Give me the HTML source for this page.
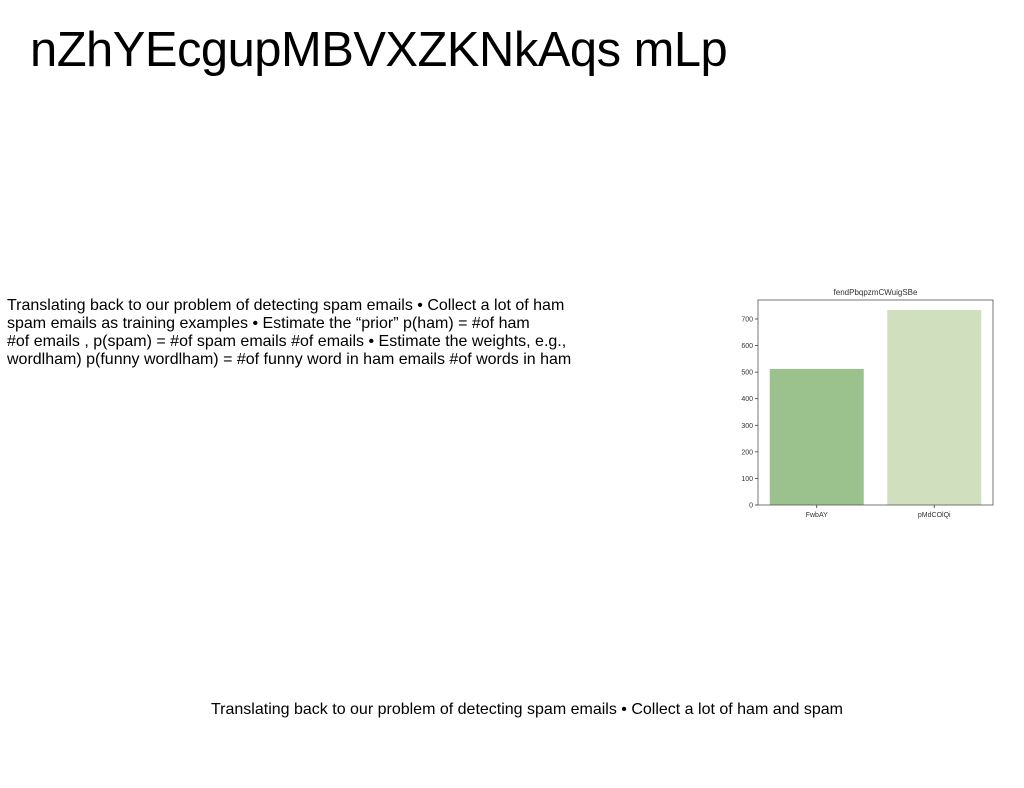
<!DOCTYPE html>
<html><head><meta charset="utf-8"><style>
body{margin:0;width:1024px;height:788px;background:#fff;position:relative;overflow:hidden;font-family:"Liberation Sans",sans-serif;color:#000}
.t{position:absolute;left:30px;top:22px;font-size:48.9px;letter-spacing:-0.5px;white-space:nowrap}
.p{position:absolute;left:7px;top:297px;font-size:16px;line-height:18px;white-space:nowrap}
.f{position:absolute;left:0;width:1054px;text-align:center;top:701px;font-size:16px;white-space:nowrap}
svg{position:absolute;left:0;top:0}
</style></head><body>
<div class="t">nZhYEcgupMBVXZKNkAqs mLp</div>
<div class="p">Translating back to our problem of detecting spam emails • Collect a lot of ham<br>spam emails as training examples • Estimate the “prior” p(ham) = #of ham<br>#of emails , p(spam) = #of spam emails #of emails • Estimate the weights, e.g.,<br>wordlham) p(funny wordlham) = #of funny word in ham emails #of words in ham</div>
<div class="f">Translating back to our problem of detecting spam emails • Collect a lot of ham and spam</div>
<svg width="1024" height="788" id="ch"></svg>
<script>
const categories=["FwbAY","pMdCOlQi"];
const values=[512,734];
const colors=["#9bc28d","#d0dfbe"];
const ticks=[0,100,200,300,400,500,600,700];
const NS="http://www.w3.org/2000/svg";
const svg=document.getElementById('ch');
const L=758,R=993,T=300,B=505;
const y=v=>B-v*(B-319)/700;
const band=(R-L)/categories.length;
const x=i=>L+band*(i+0.5);
function mk(t,a){const e=document.createElementNS(NS,t);for(const k in a)e.setAttribute(k,a[k]);svg.appendChild(e);return e;}
categories.forEach((c,i)=>{
 const r=mk('rect',{x:x(i)-band*0.4,y:y(values[i]),width:band*0.8,height:B-y(values[i]),fill:colors[i]});
 
 
 const tx=mk('text',{x:x(i),y:B+12,'font-size':7,'text-anchor':'middle',fill:'#333'});tx.textContent=c;
 
 
 mk('line',{x1:x(i),x2:x(i),y1:B,y2:B+3,stroke:'#333','stroke-width':0.8});
});
ticks.forEach(t=>{
 mk('line',{x1:L-3,x2:L,y1:y(t),y2:y(t),stroke:'#333','stroke-width':0.8});
 const tx=mk('text',{x:L-5,y:y(t)+2.5,'font-size':7,'text-anchor':'end',fill:'#333'});tx.textContent=t;
 
 
});
const fr=mk('rect',{x:L,y:T,width:R-L,height:B-T,fill:'none',stroke:'#555','stroke-width':0.8});


const ti=mk('text',{x:(L+R)/2,y:T-5,'font-size':8,'text-anchor':'middle',fill:'#333'});ti.textContent="fendPbqpzmCWuigSBe";


</script>
</body></html>
